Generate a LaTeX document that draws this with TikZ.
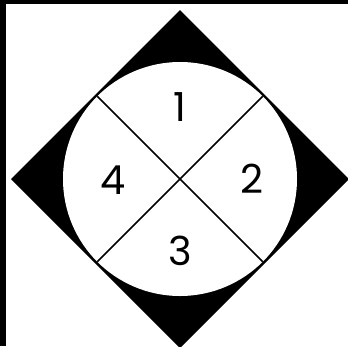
\documentclass[tikz,border=0pt]{standalone}
\usepackage{fontspec}
\setmainfont{Poppins}
\usetikzlibrary{calc}
\begin{document}
\begin{tikzpicture}[x=1pt,y=-1pt,
  digit/.style={font=\fontsize{40}{40}\selectfont, inner sep=0pt, anchor=center},
  divider/.style={line width=1.5pt, black}]
\useasboundingbox (0,0) rectangle (348,346);
\clip (0,0) rectangle (348,346);
\fill[white] (0,0) rectangle (348,346);
% frame bars
\fill[black] (0,0) rectangle (348,4);
\fill[black] (0,0) rectangle (6,346);
% diamond
\coordinate (O) at (180,179);
\fill[black] (180,10) -- (349,179) -- (180,348) -- (11,179) -- cycle;
% circle
\fill[white] (O) circle[radius=117];
% diagonal lines
\coordinate (tl) at ($(O)+(-82.7,-82.7)$);
\coordinate (br) at ($(O)+(82.7,82.7)$);
\coordinate (tr) at ($(O)+(82.7,-82.7)$);
\coordinate (bl) at ($(O)+(-82.7,82.7)$);
\draw[divider] (tl) -- (br);
\draw[divider] (tr) -- (bl);
% labels
\node[digit] (n1) at (180,107) {1};
\node[digit] (n2) at (252,179) {2};
\node[digit] (n3) at (180,251) {3};
\node[digit] (n4) at (113,180) {4};
\end{tikzpicture}
\end{document}
